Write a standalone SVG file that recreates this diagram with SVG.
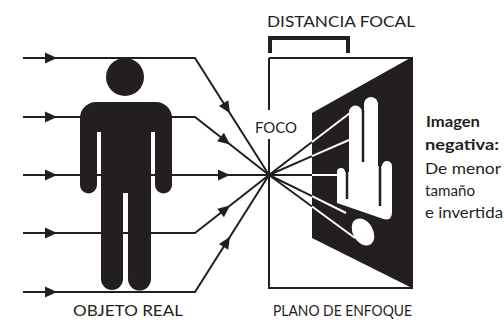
<svg xmlns="http://www.w3.org/2000/svg" width="504" height="320" viewBox="0 0 504 320">
<style>
.ln{fill:none;stroke:#231f20;stroke-width:2}
.wl{fill:none;stroke:#fff;stroke-width:2}
.blk{fill:#231f20}
.t{font-family:Lato,"Open Sans","DejaVu Sans",sans-serif;font-size:16px;fill:#231f20}
.r{font-size:15.5px}
.b{font-weight:700}
</style>
<defs>
<path id="ah" d="M0,0 L-12,-5.5 L-12,5.5 Z" fill="#231f20"/>
</defs>
<rect width="504" height="320" fill="#fff"/>

<g id="connectors">
<path class="ln" d="M23,58 H195 L269,175"/>
<path class="ln" d="M23,117 H195 L269,175"/>
<path class="ln" d="M23,175 H269"/>
<path class="ln" d="M23,233 H195 L269,175"/>
<path class="ln" d="M23,292 H195 L269,175"/>
<use href="#ah" transform="translate(57,58)"/>
<use href="#ah" transform="translate(57,117)"/>
<use href="#ah" transform="translate(57,175)"/>
<use href="#ah" transform="translate(57,233)"/>
<use href="#ah" transform="translate(57,292)"/>
<use href="#ah" transform="translate(230,113.3) rotate(57.7)"/>
<use href="#ah" transform="translate(230,144.4) rotate(38.1)"/>
<use href="#ah" transform="translate(230,175)"/>
<use href="#ah" transform="translate(230,205.6) rotate(-38.1)"/>
<use href="#ah" transform="translate(230,236.7) rotate(-57.7)"/>
<path class="ln" d="M269,175 L312,142 M269,175 L312,156.2 M269,175 L312,175 M269,175 L312,196.2 M269,175 L312,206.5"/>
</g>

<g id="person">
<circle class="blk" cx="125" cy="77" r="19"/>
<path class="blk" d="M80,185 V118 A16,16 0 0 1 96,102 H156 A16,16 0 0 1 172,118 V185 A8.5,8.5 0 0 1 155,185 V132 H151 V279 A11.5,11.5 0 0 1 128,279 V193 H123 V279 A11,11 0 0 1 101,279 V132 H97 V185 A8.5,8.5 0 0 1 80,185 Z"/>
</g>

<g id="plane">
<path class="ln" d="M269,58 H412 V288 H269 V139 M269,58 V110"/>
<path class="ln" d="M270,53 V38 H348 V53" style="stroke-width:4"/>
<polygon class="blk" points="312,113 412,57 412,288 312,238"/>
</g>

<g id="image">
<path class="wl" d="M312,142 L350,113 M312,156.2 L349,140 M312,175 L338,175 M312,196.2 L346,213 M312,206.5 L355,238"/>
<path fill="#fff" d="M337,201 V172 A4,4 0 0 1 345,172 H349 V112 A6.5,6.5 0 0 1 362,112 H364 V104 A7,7 0 0 1 378,104 V166 H382 A5,5 0 0 1 392,166 V212 Q392,222 382,218.5 L337,203 Z"/>
<path fill="none" stroke="#231f20" stroke-width="2.5" d="M363,110 V162 M347,172 V199 M380,166 V206"/>
<ellipse fill="#fff" cx="363" cy="232" rx="10" ry="14.5" transform="rotate(-30 363 232)"/>
</g>

<g id="labels">
<text class="t" x="341" y="27" text-anchor="middle" textLength="148" lengthAdjust="spacingAndGlyphs">DISTANCIA FOCAL</text>
<text class="t" x="255" y="133" textLength="42" lengthAdjust="spacingAndGlyphs">FOCO</text>
<text class="t" x="73" y="316" textLength="110" lengthAdjust="spacingAndGlyphs">OBJETO REAL</text>
<text class="t" x="273" y="316" textLength="139" lengthAdjust="spacingAndGlyphs">PLANO DE ENFOQUE</text>
<text class="t r b" x="426" y="127" textLength="54" lengthAdjust="spacingAndGlyphs">Imagen</text>
<text class="t r b" x="425" y="150" textLength="74" lengthAdjust="spacingAndGlyphs">negativa:</text>
<text class="t r" x="425" y="174" textLength="76" lengthAdjust="spacingAndGlyphs">De menor</text>
<text class="t r" x="425" y="196" textLength="50" lengthAdjust="spacingAndGlyphs">tamaño</text>
<text class="t r" x="425" y="218" textLength="78" lengthAdjust="spacingAndGlyphs">e invertida</text>
</g>
</svg>
